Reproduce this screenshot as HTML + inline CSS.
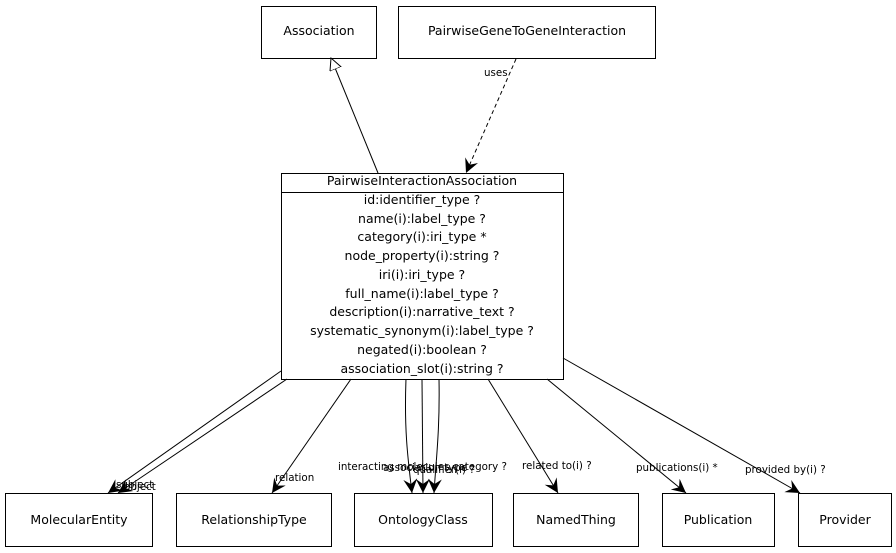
<!DOCTYPE html>
<html><head><style>body{margin:0;background:#fff}svg{display:block}text{font-family:"DejaVu Sans","Liberation Sans",sans-serif;fill:#000}</style></head><body>
<svg width="896" height="553" viewBox="0 0 896 553" xmlns="http://www.w3.org/2000/svg">
<defs>
<marker id="a" markerWidth="18" markerHeight="18" refX="14" refY="7" orient="auto" markerUnits="userSpaceOnUse"><path d="M0,0 L14,7 L0,14 L5,7 Z" fill="#000"/></marker>
<marker id="t" markerWidth="14" markerHeight="14" refX="12" refY="6" orient="auto" markerUnits="userSpaceOnUse"><path d="M0,0 L12,6 L0,12 Z" fill="#fff" stroke="#000"/></marker>
</defs>
<g fill="#fff" stroke="#000" stroke-width="1">
<rect x="261.5" y="6.5" width="115" height="52"/>
<rect x="398.5" y="6.5" width="257" height="52"/>
<rect x="281.5" y="173.5" width="282" height="206"/>
<line x1="281" y1="192.5" x2="563" y2="192.5"/>
<rect x="5.5" y="493.5" width="147" height="53"/>
<rect x="176.5" y="493.5" width="155" height="53"/>
<rect x="354.5" y="493.5" width="138" height="53"/>
<rect x="513.5" y="493.5" width="125" height="53"/>
<rect x="662.5" y="493.5" width="112" height="53"/>
<rect x="798.5" y="493.5" width="93" height="53"/>
</g>
<g stroke="#000" fill="none" stroke-width="1">
<line x1="378" y1="173" x2="331" y2="58" marker-end="url(#t)"/>
<line x1="516" y1="59" x2="466" y2="173" stroke-dasharray="4,3" marker-end="url(#a)"/>
<line x1="281" y1="371" x2="108" y2="493" marker-end="url(#a)"/>
<line x1="287" y1="379" x2="118" y2="493" marker-end="url(#a)"/>
<line x1="351" y1="379" x2="272" y2="493" marker-end="url(#a)"/>
<path d="M406,379 C404,430 408,460 412,493" marker-end="url(#a)"/>
<path d="M422,379 L423,493" marker-end="url(#a)"/>
<path d="M439,379 C440,430 436,460 434,493" marker-end="url(#a)"/>
<line x1="488" y1="379" x2="558" y2="493" marker-end="url(#a)"/>
<line x1="547" y1="379" x2="686" y2="493" marker-end="url(#a)"/>
<line x1="563" y1="358" x2="800" y2="493" marker-end="url(#a)"/>
</g>
<g font-size="12.5" text-anchor="middle">
<text x="319" y="35">Association</text>
<text x="527" y="35">PairwiseGeneToGeneInteraction</text>
<text x="422" y="185">PairwiseInteractionAssociation</text>
<text x="422" y="204">id:identifier_type ?</text>
<text x="422" y="223">name(i):label_type ?</text>
<text x="422" y="241">category(i):iri_type *</text>
<text x="422" y="260">node_property(i):string ?</text>
<text x="422" y="279">iri(i):iri_type ?</text>
<text x="422" y="298">full_name(i):label_type ?</text>
<text x="422" y="316">description(i):narrative_text ?</text>
<text x="422" y="335">systematic_synonym(i):label_type ?</text>
<text x="422" y="354">negated(i):boolean ?</text>
<text x="422" y="373">association_slot(i):string ?</text>
<text x="79" y="524">MolecularEntity</text>
<text x="254" y="524">RelationshipType</text>
<text x="423" y="524">OntologyClass</text>
<text x="576" y="524">NamedThing</text>
<text x="718" y="524">Publication</text>
<text x="845" y="524">Provider</text>
</g>
<g font-size="10.3">
<text x="484" y="76">uses</text>
<text x="116" y="488">subject</text>
<text x="124" y="490">object</text>
<text x="275" y="481">relation</text>
<text x="338" y="470">interacting molecules category ?</text>
<text x="383" y="471">association type</text>
<text x="413" y="473">qualifier(i) ?</text>
<text x="522" y="469">related to(i) ?</text>
<text x="636" y="471">publications(i) *</text>
<text x="745" y="473">provided by(i) ?</text>
</g>
</svg>
</body></html>
